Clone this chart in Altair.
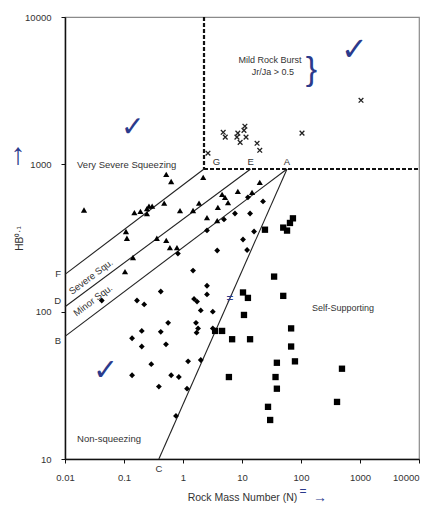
import altair as alt
import pandas as pd

# ---- data ----
# Squeezing cases (triangles)
tri_N = [0.021, 0.52, 0.63, 0.15, 0.19, 0.245, 0.265, 0.30, 0.245, 0.48, 0.89,
         0.108, 0.112, 0.104, 0.36, 0.52, 0.60, 0.79, 0.142, 1.48, 1.87, 2.2,
         2.55, 3.9, 4.6, 5.15, 5.8, 8.5, 20, 14.8, 3.8]
tri_Y = [490, 855, 765, 470, 480, 500, 520, 520, 463, 545, 485,
         350, 315, 187, 315, 305, 272, 272, 233, 486, 545, 815,
         435, 510, 625, 597, 550, 655, 755, 645, 415]

# Non-squeezing cases (diamonds)
dia_N = [0.82, 0.042, 0.42, 0.166, 0.22, 0.56, 0.20, 0.42, 0.137, 0.20, 0.515,
         0.29, 0.137, 0.63, 0.85, 0.39, 1.22, 2.0, 1.17, 0.76, 1.48, 1.54,
         1.73, 2.55, 2.55, 2.0, 3.2, 1.66, 1.8, 1.7, 3.2, 3.8, 12.2, 22.7,
         7.6, 4.95, 13.7, 2.55, 16, 10.4, 12.6]
dia_Y = [248, 119, 137, 119, 112, 84, 74, 73, 66, 58, 60,
         44, 37, 37, 36, 31, 46, 47, 30, 19.6, 190, 122,
         117, 150, 131, 102, 100, 84, 77, 72, 77, 260, 262, 560,
         464, 423, 464, 356, 350, 309, 597]

# Self-supporting cases (squares)
sq_N = [35, 10.4, 12.6, 50, 10.8, 68, 4.6, 3.5, 6.8, 13.7, 68, 39, 79, 6.0,
        37, 495, 39, 27.6, 30, 408, 73, 65, 50, 58, 24.5]
sq_Y = [173, 135, 124, 128, 95, 77, 74, 74, 65, 65, 58, 45, 46, 36,
        36, 41, 30, 22.6, 18.4, 24.4, 430, 400, 372, 355, 360]

# Rock burst cases (crosses)
x_N = [4.8, 5.2, 8.5, 8.2, 9.3, 11.2, 10.8, 11.7, 18, 20, 104, 1040, 2.65]
x_Y = [1650, 1530, 1630, 1530, 1410, 1815, 1700, 1530, 1390, 1245, 1630, 2720, 1190]

# Boundary lines
line_seg = ["GF", "GF", "ED", "ED", "AB", "AB", "AC", "AC"]
line_N = [2.27, 0.01, 14, 0.01, 58, 0.01, 58, 0.39]
line_Y = [930, 179, 930, 108, 930, 68, 930, 10]

dash_seg = ["v", "v", "h", "h"]
dash_N = [2.27, 2.27, 2.27, 10000]
dash_Y = [10000, 930, 930, 930]

x_ticks = [0.01, 0.1, 1, 10, 100, 1000, 10000]
y_ticks = [10, 100, 1000, 10000]

# Region labels (left aligned)
lab_text = ["Very Severe Squeezing", "Non-squeezing"]
lab_N = [0.016, 0.016]
lab_Y = [985, 13.7]

# Region labels (centered)
clab_text = ["Mild Rock Burst", "Jr/Ja > 0.5", "Self-Supporting"]
clab_N = [29.8, 33.5, 515]
clab_Y = [5090, 4225, 106]

rot_text = ["Severe Squ.", "Minor Squ."]
rot_N = [0.0276, 0.0299]
rot_Y = [172, 119]

pt_text = ["G", "E", "A"]
pt_N = [3.7, 14, 58]
pt_Y = [930, 930, 930]

side_text = ["F", "D", "B"]
side_N = [0.01, 0.01, 0.01]
side_Y = [179, 119, 63]

c_text = ["C"]
c_N = [0.39]
c_Y = [10]

# Hand-written blue marks
hand_text = ["✓", "}", "✓", "✓", "≠", "=", "→", "↑"]
hand_N = [822, 150, 0.142, 0.0495, 6.3, 108, 210, 0.0016]
hand_Y = [5970, 4400, 1757, 39.7, 124, 6.05, 5.4, 1151]
hand_size = [32, 34, 28, 30, 12, 12, 14, 30]

FONT = "Liberation Sans"
TXT = "#333333"
BLUE = "#2b3a8c"

xs = alt.Scale(type="log", domain=[0.01, 10000], nice=False)
ys = alt.Scale(type="log", domain=[10, 10000], nice=False)

X = alt.X("N:Q", scale=xs,
          axis=alt.Axis(values=x_ticks, format="~g", title="Rock Mass Number (N)",
                        grid=False, tickSize=4, labelPadding=9, titlePadding=11,
                        labelAlign=alt.expr("datum.value >= 10000 ? 'right' : 'center'"),
                        labelFontSize=9.5, titleFontSize=10.5, labelColor=TXT,
                        titleColor=TXT, domainColor="#111", domainWidth=1.5,
                        tickColor="#111", titleFontWeight="normal", labelFont=FONT,
                        titleFont=FONT, labelFlush=False))
Y = alt.Y("Y:Q", scale=ys,
          axis=alt.Axis(values=y_ticks, format="~g", title="HB⁰·¹",
                        grid=False, tickSize=4, labelPadding=10,
                        titleX=-46, titleY=221, titleAngle=270,
                        titleAlign="center", titleBaseline="middle",
                        labelFontSize=9.5, titleFontSize=10, labelColor=TXT,
                        titleColor=TXT, domainColor="#111", domainWidth=1.5,
                        tickColor="#111", titleFontWeight="normal", labelFont=FONT,
                        titleFont=FONT, labelFlush=False))

def df(n, y, **kw):
    d = {"N": n, "Y": y}
    d.update(kw)
    return pd.DataFrame(d)

lines = alt.Chart(df(line_N, line_Y, seg=line_seg)).mark_line(
    color="#222", strokeWidth=1.1).encode(x=X, y=Y, detail="seg:N")

dashes = alt.Chart(df(dash_N, dash_Y, seg=dash_seg)).mark_line(
    color="#111", strokeWidth=2.2, strokeDash=[4, 2]).encode(x=X, y=Y, detail="seg:N")

tri = alt.Chart(df(tri_N, tri_Y)).mark_point(
    shape="triangle-up", filled=True, color="#000", size=38, opacity=1).encode(x=X, y=Y)
dia = alt.Chart(df(dia_N, dia_Y)).mark_point(
    shape="diamond", filled=True, color="#000", size=34, opacity=1).encode(x=X, y=Y)
sq = alt.Chart(df(sq_N, sq_Y)).mark_point(
    shape="square", filled=True, color="#000", size=40, opacity=1).encode(x=X, y=Y)
crs = alt.Chart(df(x_N, x_Y)).mark_point(
    shape="M-1,-1L1,1M1,-1L-1,1", filled=False, color="#222", strokeWidth=1.3,
    size=22, opacity=1).encode(x=X, y=Y)

labs = alt.Chart(df(lab_N, lab_Y, t=lab_text)).mark_text(
    align="left", baseline="middle", font=FONT, fontSize=9.5, color=TXT).encode(
    x=X, y=Y, text="t:N")
clabs = alt.Chart(df(clab_N, clab_Y, t=clab_text)).mark_text(
    align="center", baseline="middle", font=FONT, fontSize=9, color=TXT).encode(
    x=X, y=Y, text="t:N")
rlabs = alt.Chart(df(rot_N, rot_Y, t=rot_text)).mark_text(
    align="center", baseline="middle", font=FONT, fontSize=9.5, color=TXT,
    angle=323).encode(x=X, y=Y, text="t:N")
plabs = alt.Chart(df(pt_N, pt_Y, t=pt_text)).mark_text(
    align="center", baseline="bottom", dy=-2, font=FONT, fontSize=9.5, color=TXT).encode(
    x=X, y=Y, text="t:N")
slabs = alt.Chart(df(side_N, side_Y, t=side_text)).mark_text(
    align="right", baseline="middle", dx=-4, font=FONT, fontSize=9.5, color=TXT).encode(
    x=X, y=Y, text="t:N")
cl = alt.Chart(df(c_N, c_Y, t=c_text)).mark_text(
    align="center", baseline="middle", dy=10, font=FONT, fontSize=9.5, color=TXT).encode(
    x=X, y=Y, text="t:N")
hand = alt.Chart(df(hand_N, hand_Y, t=hand_text, s=hand_size)).mark_text(
    align="center", baseline="middle", font="Liberation Sans", color=BLUE).encode(
    x=X, y=Y, text="t:N", size=alt.Size("s:Q", scale=None, legend=None))

chart = alt.layer(lines, dashes, tri, dia, sq, crs, labs, clabs, rlabs, plabs,
                  slabs, cl, hand).properties(
    width=354, height=442,
    padding={"left": 57, "top": 9, "right": 3, "bottom": 48},
    autosize=alt.AutoSizeParams(type="none"),
    background="white",
).configure_view(stroke="#8a8a8a", strokeWidth=1.2)

chart.save("out.html", embed_options={"renderer": "svg", "actions": False})
